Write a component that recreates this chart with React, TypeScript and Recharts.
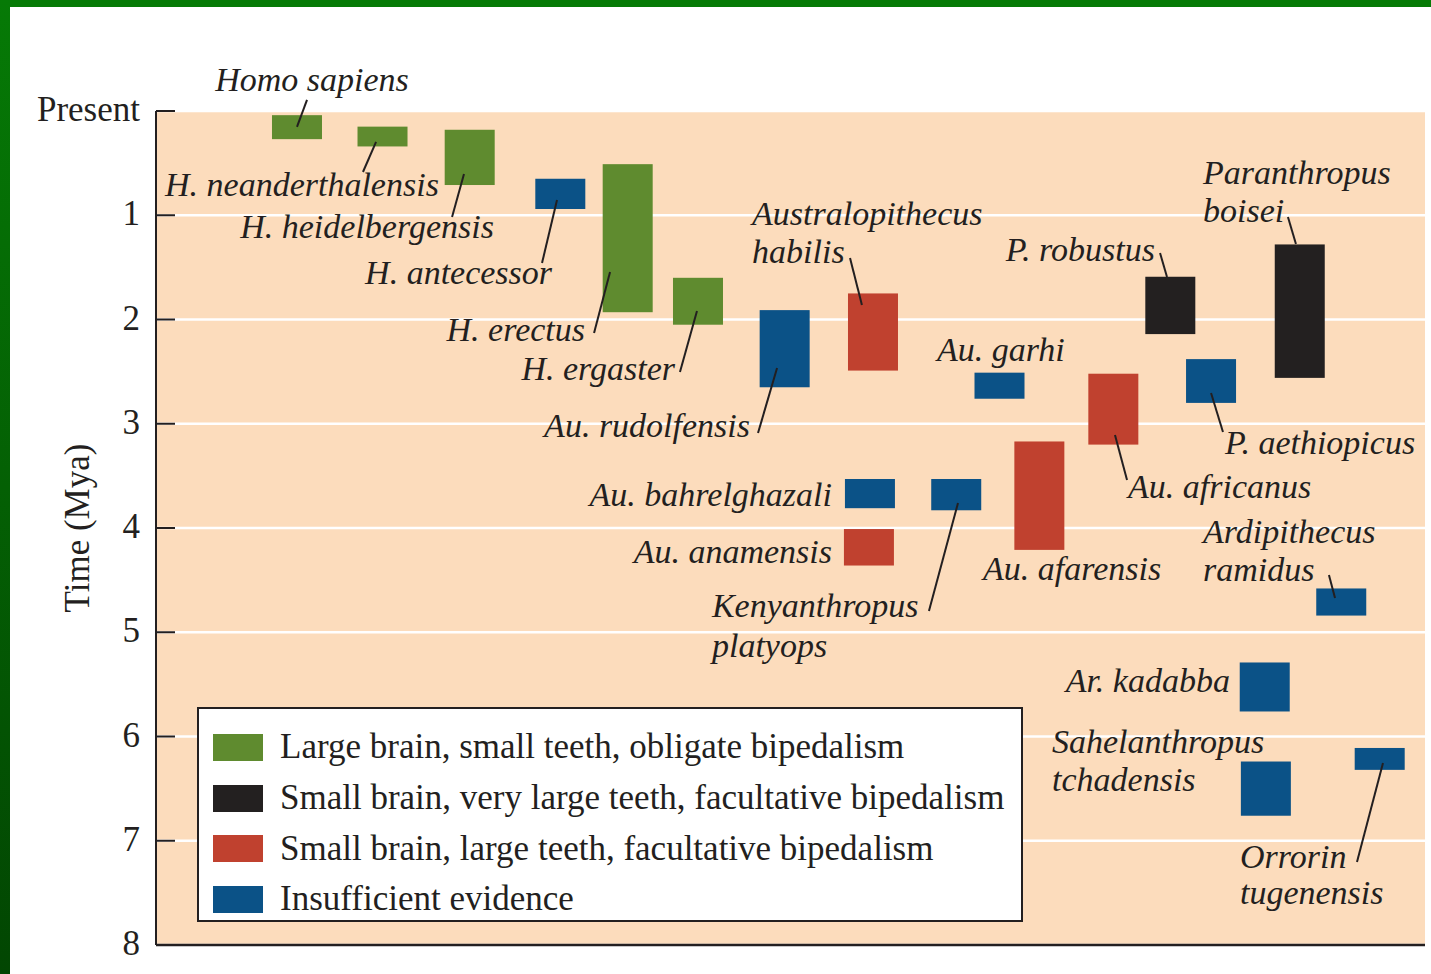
import React from "react";
import {
  ComposedChart,
  Bar,
  XAxis,
  YAxis,
  CartesianGrid,
  ReferenceDot,
  ReferenceLine,
  Legend,
} from "recharts";

// hominin species (time in millions of years ago)
const SPECIES = [
  "Homo sapiens",
  "H. neanderthalensis",
  "H. heidelbergensis",
  "H. antecessor",
  "H. erectus",
  "H. ergaster",
  "Au. rudolfensis",
  "Australopithecus habilis",
  "Au. garhi",
  "Au. bahrelghazali",
  "Au. anamensis",
  "Kenyanthropus platyops",
  "Au. afarensis",
  "Au. africanus",
  "P. robustus",
  "P. aethiopicus",
  "Paranthropus boisei",
  "Ardipithecus ramidus",
  "Ar. kadabba",
  "Sahelanthropus tchadensis",
  "Orrorin tugenensis",
];

// horizontal column of each species (0-100 across the panel)
const COLUMN = [
  11.11, 17.85, 24.72, 31.86, 37.17, 42.71, 49.54, 56.5, 66.47, 56.26, 56.18,
  63.06, 69.61, 75.44, 79.93, 83.14, 90.13, 93.4, 87.37, 87.46, 96.43,
];

const FIRST_MYA = [
  0.04, 0.15, 0.18, 0.65, 0.51, 1.6, 1.91, 1.75, 2.51, 3.53, 4.01, 3.53, 3.17,
  2.52, 1.59, 2.38, 1.28, 4.58, 5.29, 6.24, 6.11,
];

const LAST_MYA = [
  0.27, 0.34, 0.71, 0.94, 1.93, 2.05, 2.65, 2.49, 2.76, 3.81, 4.36, 3.83, 4.21,
  3.2, 2.14, 2.8, 2.56, 4.84, 5.76, 6.76, 6.32,
];

const GROUP = [
  "large", "large", "large", "unknown", "large", "large", "unknown", "small",
  "unknown", "unknown", "small", "unknown", "small", "small", "robust",
  "unknown", "robust", "unknown", "unknown", "unknown", "unknown",
];

const GROUP_KEYS = ["large", "robust", "small", "unknown"];
const GROUP_LABELS = [
  "Large brain, small teeth, obligate bipedalism",
  "Small brain, very large teeth, facultative bipedalism",
  "Small brain, large teeth, facultative bipedalism",
  "Insufficient evidence",
];

const TICKS = [0, 1, 2, 3, 4, 5, 6, 7, 8];
const TICK_LABELS = ["Present", "1", "2", "3", "4", "5", "6", "7", "8"];

const COLORS: Record<string, string> = {
  large: "#5f8b2f",
  robust: "#232020",
  small: "#c0412f",
  unknown: "#0b5287",
};

const INK = "#231f20";
const SERIF = "'Liberation Serif', 'Times New Roman', serif";
const BAR_PX = 50;

const bars = SPECIES.map((name, i) => ({
  name,
  x: COLUMN[i],
  span: [FIRST_MYA[i], LAST_MYA[i]],
  group: GROUP[i],
}));

// where each name sits and its pointer line, in chart units
type Note = {
  lines: string[];
  x: number;
  y: number;
  anchor: "start" | "middle" | "end";
  gap?: number;
  leader?: [number, number, number, number];
};

const NOTES: Note[] = [
  { lines: ["Homo sapiens"], x: 12.29, y: -0.19, anchor: "middle", leader: [11.9, -0.106, 11.11, 0.153] },
  { lines: ["H. neanderthalensis"], x: 0.71, y: 0.815, anchor: "start", leader: [17.34, 0.297, 16.31, 0.585] },
  { lines: ["H. heidelbergensis"], x: 26.63, y: 1.218, anchor: "end", leader: [24.27, 0.604, 23.33, 1.017] },
  { lines: ["H. antecessor"], x: 31.21, y: 1.66, anchor: "end", leader: [31.6, 0.854, 30.42, 1.458] },
  { lines: ["H. erectus"], x: 33.81, y: 2.206, anchor: "end", leader: [35.78, 1.544, 34.52, 2.13] },
  { lines: ["H. ergaster"], x: 40.9, y: 2.58, anchor: "end", leader: [42.63, 1.918, 41.29, 2.504] },
  { lines: ["Au. rudolfensis"], x: 46.81, y: 3.13, anchor: "end", leader: [48.94, 2.465, 47.44, 3.089] },
  { lines: ["Australopithecus", "habilis"], x: 46.97, y: 1.094, anchor: "start", leader: [54.69, 1.41, 55.63, 1.861] },
  { lines: ["Au. garhi"], x: 61.54, y: 2.4, anchor: "start" },
  { lines: ["Au. bahrelghazali"], x: 53.27, y: 3.79, anchor: "end" },
  { lines: ["Au. anamensis"], x: 53.27, y: 4.335, anchor: "end" },
  { lines: ["Kenyanthropus", "platyops"], x: 43.81, y: 4.85, anchor: "start", gap: 40, leader: [63.2, 3.76, 60.91, 4.796] },
  { lines: ["Au. afarensis"], x: 65.17, y: 4.5, anchor: "start" },
  { lines: ["Au. africanus"], x: 76.6, y: 3.71, anchor: "start", leader: [75.57, 3.108, 76.52, 3.54] },
  { lines: ["P. robustus"], x: 78.72, y: 1.44, anchor: "end", leader: [79.12, 1.362, 79.67, 1.592] },
  { lines: ["P. aethiopicus"], x: 84.24, y: 3.29, anchor: "start", leader: [83.14, 2.705, 84.08, 3.079] },
  { lines: ["Paranthropus", "boisei"], x: 82.51, y: 0.7, anchor: "start", leader: [89.2, 1.017, 89.83, 1.276] },
  { lines: ["Ardipithecus", "ramidus"], x: 82.51, y: 4.14, anchor: "start", leader: [92.43, 4.451, 92.91, 4.671] },
  { lines: ["Ar. kadabba"], x: 84.63, y: 5.57, anchor: "end" },
  { lines: ["Sahelanthropus", "tchadensis"], x: 70.61, y: 6.16, anchor: "start" },
  { lines: ["Orrorin", "tugenensis"], x: 85.42, y: 7.26, anchor: "start", gap: 36, leader: [96.69, 6.254, 94.64, 7.204] },
];

function SpanBar(props: any) {
  const { x, y, width, height, payload } = props;
  const cx = x + width / 2;
  const top = Math.min(y, y + height);
  return (
    <rect
      x={cx - BAR_PX / 2}
      y={top}
      width={BAR_PX}
      height={Math.abs(height)}
      fill={COLORS[payload.group]}
    />
  );
}

function TimeTick(props: any) {
  const { x, y, payload } = props;
  const label = TICK_LABELS[TICKS.indexOf(payload.value)];
  return (
    <g>
      <line x1={x} x2={x + 19} y1={y} y2={y} stroke={INK} strokeWidth={2} />
      <text x={x - 16} y={y + 10} textAnchor="end" fontFamily={SERIF} fontSize={35} fill={INK}>
        {label}
      </text>
    </g>
  );
}

function noteShape(note: Note) {
  return (p: any) => (
    <text
      x={p.cx}
      y={p.cy}
      textAnchor={note.anchor}
      fontFamily={SERIF}
      fontStyle="italic"
      fontSize={34}
      fill={INK}
    >
      {note.lines.map((line, i) => (
        <tspan key={line} x={p.cx} dy={i === 0 ? 0 : note.gap ?? 38}>
          {line}
        </tspan>
      ))}
    </text>
  );
}

function KeyBox() {
  return (
    <div
      style={{
        boxSizing: "border-box",
        width: "100%",
        height: "100%",
        background: "#fff",
        border: `2px solid ${INK}`,
        padding: "13px 0 0 14px",
        fontFamily: SERIF,
        fontSize: 35,
        color: INK,
      }}
    >
      {GROUP_KEYS.map((key, i) => (
        <div key={key} style={{ display: "flex", alignItems: "center", height: 50.7 }}>
          <span
            style={{
              display: "inline-block",
              width: 50,
              height: 27,
              background: COLORS[key],
              marginRight: 17,
            }}
          />
          <span style={{ lineHeight: "50px", whiteSpace: "nowrap" }}>{GROUP_LABELS[i]}</span>
        </div>
      ))}
    </div>
  );
}

export default function App() {
  return (
    <div
      style={{
        position: "fixed",
        left: 0,
        top: 0,
        width: 1431,
        height: 974,
        background: "#fff",
        overflow: "hidden",
      }}
    >
      <ComposedChart
        width={1431}
        height={974}
        data={bars}
        margin={{ top: 111, right: 6, bottom: 29, left: 56 }}
      >
        <CartesianGrid
          vertical={false}
          stroke="#ffffff"
          strokeWidth={2.5}
          fill="#fcdcbc"
          fillOpacity={1}
        />
        <XAxis type="number" dataKey="x" domain={[0, 100]} hide />
        <YAxis
          type="number"
          domain={[0, 8]}
          ticks={TICKS}
          reversed
          width={100}
          tickSize={0}
          tickMargin={0}
          tickLine={false}
          axisLine={{ stroke: INK, strokeWidth: 2 }}
          tick={<TimeTick />}
          interval={0}
          label={{
            value: "Time (Mya)",
            content: (p: any) => {
              const vb = p.viewBox;
              const cx = vb.x + 33;
              const cy = vb.y + vb.height / 2;
              return (
                <text
                  x={cx}
                  y={cy}
                  transform={`rotate(-90, ${cx}, ${cy})`}
                  textAnchor="middle"
                  fontFamily={SERIF}
                  fontSize={35}
                  fill={INK}
                >
                  Time (Mya)
                </text>
              );
            },
          }}
        />
        <Bar dataKey="span" isAnimationActive={false} shape={<SpanBar />} />
        <ReferenceLine y={8} stroke={INK} strokeWidth={2.5} ifOverflow="visible" />
        {NOTES.filter((n) => n.leader).map((n) => {
          const [x1, y1, x2, y2] = n.leader!;
          return (
            <ReferenceLine
              key={`lead-${n.lines[0]}`}
              segment={[
                { x: x1, y: y1 },
                { x: x2, y: y2 },
              ]}
              stroke={INK}
              strokeWidth={2}
              ifOverflow="visible"
            />
          );
        })}
        {NOTES.map((n) => (
          <ReferenceDot
            key={`note-${n.lines[0]}`}
            x={n.x}
            y={n.y}
            r={0}
            ifOverflow="visible"
            shape={noteShape(n)}
          />
        ))}
        <Legend
          layout="vertical"
          align="center"
          verticalAlign="middle"
          content={<KeyBox />}
          wrapperStyle={{ left: 197, top: 707, width: 826, height: 215 }}
        />
      </ComposedChart>
      <div
        style={{
          position: "absolute",
          zIndex: 5,
          left: 0,
          top: 0,
          width: 1431,
          height: 7,
          background: "#067a06",
        }}
      />
      <div
        style={{
          position: "absolute",
          zIndex: 5,
          left: 0,
          top: 0,
          width: 10,
          height: 974,
          background: "linear-gradient(#067a06, #024602)",
        }}
      />
    </div>
  );
}
